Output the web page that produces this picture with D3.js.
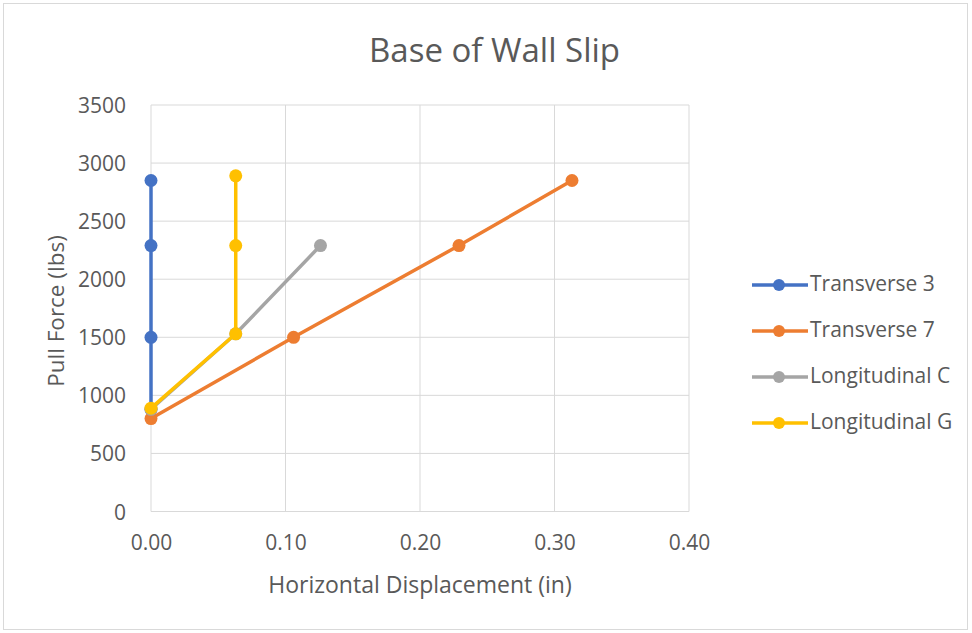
<!DOCTYPE html>
<html><head><meta charset="utf-8">
<script src="https://cdn.jsdelivr.net/npm/d3@7"></script>
<style>body{margin:0;background:#fff}svg{display:block}text{font-family:"Open Sans",sans-serif;fill:#595959}</style>
</head><body>
<svg id="c" width="972" height="633"></svg>
<script>
const seriesNames = ["Transverse 3","Transverse 7","Longitudinal C","Longitudinal G"];
const seriesColors = ["#4472C4","#ED7D31","#A5A5A5","#FFC000"];
const t3X = [0,0,0,0];            const t3Y = [880,1500,2290,2850];
const t7X = [0,0.106,0.229,0.313]; const t7Y = [800,1500,2290,2850];
const lcX = [0,0.063,0.126];      const lcY = [880,1530,2290];
const lgX = [0,0.063,0.063,0.063]; const lgY = [890,1530,2290,2890];
const xTicks = [0,0.1,0.2,0.3,0.4];
const yTicks = [0,500,1000,1500,2000,2500,3000,3500];

const svg = d3.select("#c");
svg.append("rect").attr("x",3.5).attr("y",3.5).attr("width",964).attr("height",626)
  .attr("fill","#fff").attr("stroke","#d9d9d9");

const L=151,R=689,T=105,B=511.5;
const x = d3.scaleLinear().domain([0,0.4]).range([L,R]);
const y = d3.scaleLinear().domain([0,3500]).range([B,T]);

const g = svg.append("g");
g.selectAll(".gx").data(xTicks).join("line").attr("x1",d=>x(d)).attr("x2",d=>x(d))
  .attr("y1",T).attr("y2",B).attr("stroke","#d9d9d9").attr("stroke-width",1);
g.selectAll(".gy").data(yTicks).join("line").attr("y1",d=>y(d)).attr("y2",d=>y(d))
  .attr("x1",L).attr("x2",R).attr("stroke","#d9d9d9").attr("stroke-width",1);

const font = "'Open Sans',sans-serif";
const xAxis = d3.axisBottom(x).tickValues(xTicks).tickFormat(d3.format(".2f")).tickSize(0).tickPadding(0);
const ax = svg.append("g").attr("transform",`translate(0,${B})`).call(xAxis);
ax.select(".domain").remove();
ax.selectAll("text").attr("dy",0).attr("y",38.5).style("font-size","21px").style("fill","#595959").style("font-family",font);
const yAxis = d3.axisLeft(y).tickValues(yTicks).tickFormat(d3.format("d")).tickSize(0).tickPadding(0);
const ay = svg.append("g").attr("transform",`translate(126,0)`).call(yAxis);
ay.select(".domain").remove();
ay.selectAll("text").attr("dy","0.36em").attr("x",0).style("font-size","21px").style("fill","#595959").style("font-family",font);

const data = [[t3X,t3Y],[t7X,t7Y],[lcX,lcY],[lgX,lgY]].map(([xs,ys],i)=>({name:seriesNames[i],color:seriesColors[i],pts:xs.map((v,j)=>[v,ys[j]])}));
const line = d3.line().x(d=>x(d[0])).y(d=>y(d[1]));
data.forEach(s=>{
  g.append("path").attr("d",line(s.pts)).attr("fill","none").attr("stroke",s.color).attr("stroke-width",3.5).attr("stroke-linejoin","round");
  g.selectAll(null).data(s.pts).join("circle").attr("cx",d=>x(d[0])).attr("cy",d=>y(d[1])).attr("r",6.5).attr("fill",s.color);
});

svg.append("text").attr("x",494.5).attr("y",62).attr("text-anchor","middle").style("font-size","33px").text("Base of Wall Slip");
svg.append("text").attr("x",420).attr("y",593).attr("text-anchor","middle").style("font-size","23px").text("Horizontal Displacement (in)");
svg.append("text").attr("transform","translate(64,311) rotate(-90)").attr("text-anchor","middle").style("font-size","22.5px").text("Pull Force (lbs)");

const lg = svg.append("g");
data.forEach((s,i)=>{
  const yy = 285 + i*46;
  lg.append("line").attr("x1",752).attr("x2",808).attr("y1",yy).attr("y2",yy).attr("stroke",s.color).attr("stroke-width",3.5);
  lg.append("circle").attr("cx",779).attr("cy",yy).attr("r",6).attr("fill",s.color);
  lg.append("text").attr("x",810).attr("y",yy).attr("dy","0.3em").style("font-size","21px").text(s.name);
});
</script>
</body></html>
